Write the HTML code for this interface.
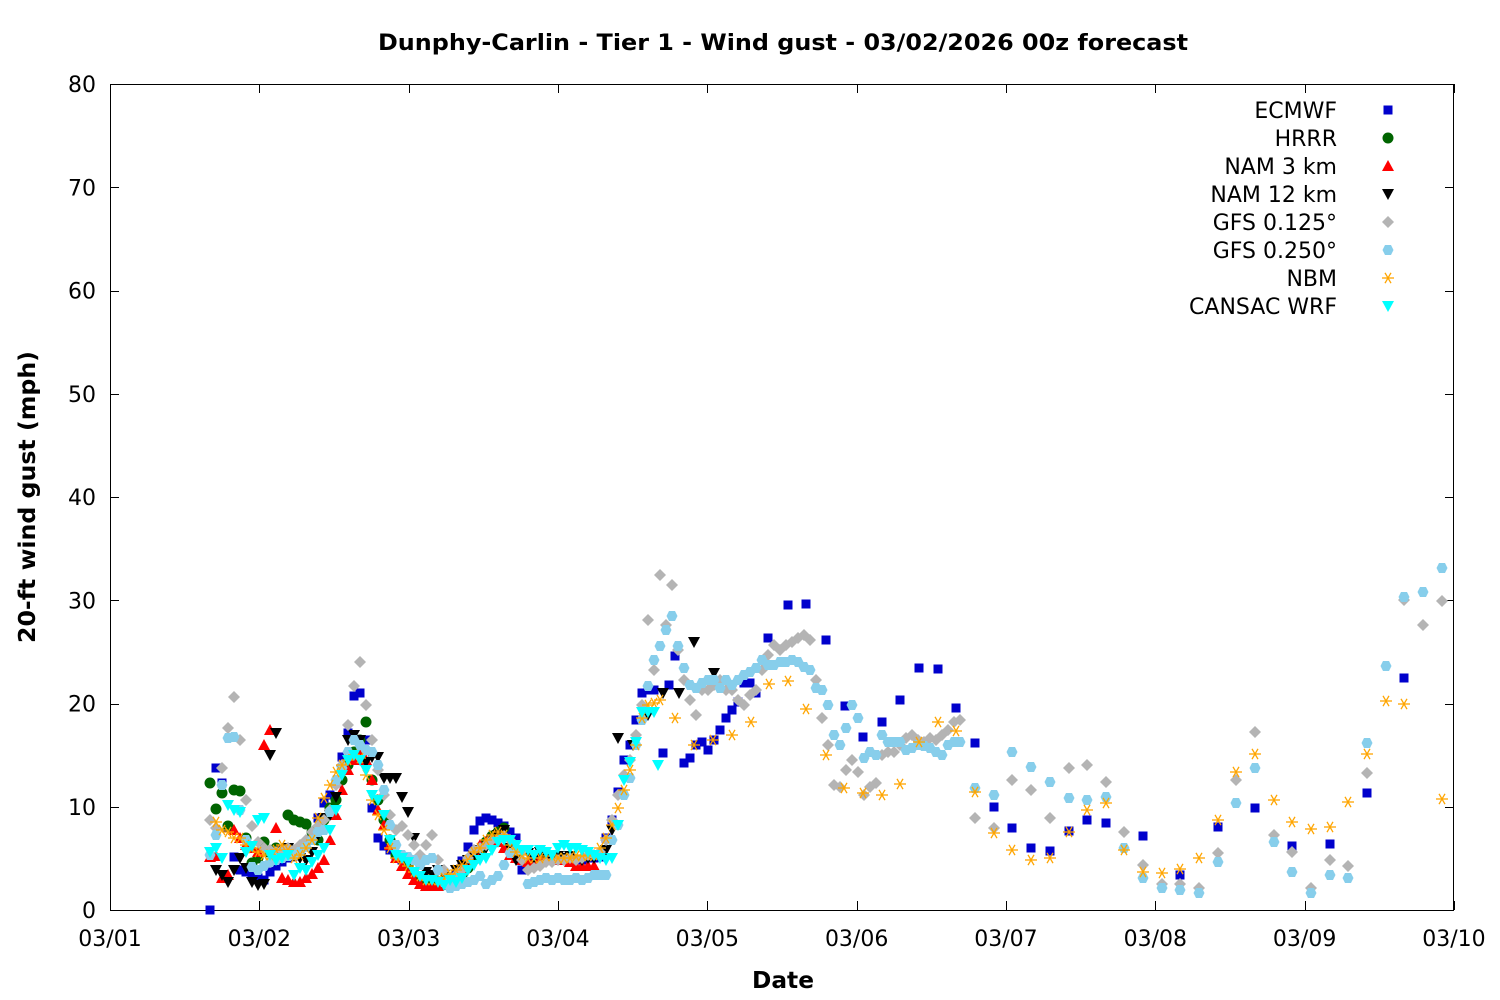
<!DOCTYPE html>
<html><head><meta charset="utf-8"><style>
html,body{margin:0;padding:0;background:#fff;}
svg{display:block;font-family:"DejaVu Sans","Liberation Sans",sans-serif;}
</style></head><body>
<svg id="s" width="1500" height="1000" viewBox="0 0 1500 1000" xmlns="http://www.w3.org/2000/svg">
<rect width="1500" height="1000" fill="#fff"/>
<text x="783" y="50" text-anchor="middle" font-size="22" font-weight="bold" textLength="810" lengthAdjust="spacingAndGlyphs">Dunphy-Carlin - Tier 1 - Wind gust - 03/02/2026 00z forecast</text>
<text x="783" y="988" text-anchor="middle" font-size="23" font-weight="bold" textLength="62" lengthAdjust="spacingAndGlyphs">Date</text>
<text transform="translate(35,497) rotate(-90)" text-anchor="middle" font-size="23" font-weight="bold" textLength="292" lengthAdjust="spacingAndGlyphs">20-ft wind gust (mph)</text>
<g id="ax" stroke="#000" stroke-width="1" fill="none"></g>
<g id="lab" font-size="22" fill="#000"></g>
<g id="pts"></g>
<g id="leg" font-size="22"></g>
</svg>
<script>
const NS="http://www.w3.org/2000/svg";
function el(p,t,a,txt){const e=document.createElementNS(NS,t);for(const k in a)e.setAttribute(k,a[k]);if(txt!==undefined)e.textContent=txt;p.appendChild(e);return e;}
const ax=document.getElementById('ax'),lab=document.getElementById('lab'),pts=document.getElementById('pts'),leg=document.getElementById('leg');
el(ax,'rect',{x:110.5,y:84.5,width:1343,height:826});
for(let i=0;i<=8;i++){const y=910-i*103.25;const yy=Math.round(y)+0.5;
el(ax,'line',{x1:110,y1:yy,x2:119,y2:yy});el(ax,'line',{x1:1454,y1:yy,x2:1445,y2:yy});
el(lab,'text',{x:96,y:y+8,'text-anchor':'end'},String(i*10));}
const dl=['03/01','03/02','03/03','03/04','03/05','03/06','03/07','03/08','03/09','03/10'];
for(let i=0;i<=9;i++){const x=110+i*149.33;const xx=Math.round(x)+0.5;
el(ax,'line',{x1:xx,y1:910,x2:xx,y2:901});el(ax,'line',{x1:xx,y1:84,x2:xx,y2:93});
el(lab,'text',{x:x,y:946,'text-anchor':'middle'},dl[i]);}
function P(s){const a=s.split(/[;\s]+/).filter(Boolean).map(v=>v.split(',').map(Number));return a.filter(v=>v.length==2&&!isNaN(v[1]));}
function mk(g,type,c,x,y){
 if(type=='sq')el(g,'rect',{x:x-4.5,y:y-4.5,width:9,height:9,fill:c});
 else if(type=='ci')el(g,'circle',{cx:x,cy:y,r:5.5,fill:c});
 else if(type=='tu')el(g,'polygon',{points:`${x},${y-6} ${x+6},${y+5} ${x-6},${y+5}`,fill:c});
 else if(type=='td')el(g,'polygon',{points:`${x},${y+6} ${x+6},${y-5} ${x-6},${y-5}`,fill:c});
 else if(type=='di')el(g,'polygon',{points:`${x},${y-6} ${x+6},${y} ${x},${y+6} ${x-6},${y}`,fill:c});
 else if(type=='hx')el(g,'polygon',{points:`${x-5.5},${y} ${x-3},${y-5} ${x+3},${y-5} ${x+5.5},${y} ${x+3},${y+5} ${x-3},${y+5}`,fill:c});
 else if(type=='st'){for(const a of [0,60,120]){const r=a*Math.PI/180;el(g,'line',{x1:x-6*Math.cos(r),y1:y-6*Math.sin(r),x2:x+6*Math.cos(r),y2:y+6*Math.sin(r),stroke:c,'stroke-width':1.3});}}
}
const S=[
['ECMWF','sq','#0000cc',`210,910;216,768;222,783;228,827;234,857;240,870;246,872;252,875;258,878;264,880;270,872;276,866;282,862;288,858;294,856;300,852;306,846;312,836;318,818;324,803;330,795;336,783;342,757;348,733;354,696;360,693;366,740;372,808;378,838;384,846;390,850;396,857;402,860;408,863;414,872;420,878;426,883;432,885;438,886;444,884;450,880;456,874;462,861;468,847;474,830;480,821;486,818;492,820;498,823;504,826;510,832;516,838;522,870;528,862;534,857;540,855;546,855;552,855;558,860;564,858;570,858;576,860;582,860;588,858;594,858;600,857;606,838;612,820;618,792;624,760;630,745;636,720;642,693;648,690;654,690;663,753;669,685;675,656;684,763;690,758;696,745;702,742;708,750;714,740;720,730;726,718;732,710;738,702;744,683;750,683;756,693;768,638;788,605;806,604;826,640;845,706;863,737;882,722;900,700;919,668;938,669;956,708;975,743;994,807;1012,828;1031,848;1050,851;1069,831;1087,820;1106,823;1143,836;1180,875;1218,827;1255,808;1292,846;1330,844;1367,793;1404,678`],
['HRRR','ci','#006400',`210,783;216,809;222,793;228,826;234,790;240,791;246,838;252,863;258,858;264,842;270,853;276,848;282,852;288,815;294,820;300,822;306,824;312,832;318,840;324,820;330,808;336,800;342,780;348,765;354,752;360,740;366,722;372,780;378,800;384,820;390,840;396,855;402,858;408,866;414,874;420,878;426,880;432,882;438,882;444,882;450,880;456,878;462,875;468,868;474,860;480,850;486,842;492,836;498,832;504,828`],
['NAM 3 km','tu','#ff0000',`210,857;216,856;222,878;228,875;234,830;240,838;246,845;252,848;258,852;264,745;270,730;276,828;282,878;288,880;294,882;300,882;306,878;312,874;318,868;324,860;330,840;336,815;342,790;348,770;354,760;360,755;366,760;372,780;378,810;384,825;390,845;396,858;402,866;408,874;414,880;420,884;426,886;432,886;438,886;444,885;450,882;456,878;462,870;468,862;474,850;480,845;486,842;492,840;498,842;504,848;510,855;516,858;522,860;528,862;534,860;540,858;546,860;552,860;558,860;564,860;570,862;576,866;582,866;588,866;594,866`],
['NAM 12 km','td','#000000',`216,870;222,875;228,882;234,870;240,858;246,868;252,882;258,885;264,884;270,755;276,733;282,850;288,848;294,856;300,858;306,860;312,852;318,835;324,818;330,815;336,797;342,770;348,740;354,735;360,740;366,762;372,757;378,757;384,778;390,778;396,778;402,797;408,812;414,838;420,860;426,872;432,875;438,870;444,875;450,880;456,870;462,865;468,860;474,855;480,850;486,848;492,840;498,835;504,830;510,848;516,860;522,850;528,853;534,858;540,852;546,858;552,856;558,856;564,858;570,856;576,860;582,860;588,858;594,858;600,856;606,850;612,830;618,738;633,745;648,715;663,693;679,693;694,642;714,673`],
['GFS 0.125°','di','#b4b4b4',`210,820;216,828;222,768;228,728;234,697;240,740;246,800;252,826;258,842;264,848;270,850;276,852;282,850;288,848;294,850;300,845;306,840;312,832;318,826;324,820;330,810;336,785;342,765;348,725;354,686;360,662;366,705;372,740;378,770;384,795;390,815;396,830;402,826;408,835;414,845;420,855;426,845;432,835;438,860;444,870;450,880;456,875;462,870;468,858;474,850;480,848;486,845;492,840;498,840;504,836;510,840;516,850;522,860;528,870;534,868;540,866;546,862;552,862;558,860;564,860;570,858;576,860;582,858;588,855;594,855;600,852;606,840;612,820;618,795;624,775;630,760;636,735;642,705;648,620;654,670;660,575;666,625;672,585;678,650;684,680;690,700;696,715;702,690;708,690;714,685;720,680;726,690;732,690;738,700;744,705;750,695;756,690;762,670;768,655;774,645;780,650;786,645;792,642;798,638;804,635;810,640;816,680;822,718;828,745;834,785;840,787;846,770;852,760;858,772;864,795;870,787;876,783;882,755;888,752;894,752;900,745;906,738;912,735;918,740;924,742;930,738;936,740;942,735;948,730;954,722;960,720;975,818;994,828;1012,780;1031,790;1050,818;1069,768;1087,765;1106,782;1124,832;1143,865;1162,884;1180,884;1199,888;1218,853;1236,780;1255,732;1274,835;1292,852;1311,888;1330,860;1348,866;1367,773;1404,600;1423,625;1442,601`],
['GFS 0.250°','hx','#87ceeb',`210,855;216,835;222,785;228,738;234,737;240,810;246,840;252,867;258,870;264,866;270,862;276,860;282,858;288,856;294,855;300,852;306,847;312,840;318,832;324,830;330,812;336,780;342,768;348,752;354,740;360,745;366,750;372,752;378,765;384,790;390,825;396,845;402,855;408,857;414,860;420,865;426,860;432,858;438,870;444,882;450,888;456,886;462,884;468,882;474,880;480,876;486,884;492,880;498,876;504,865;510,853;516,850;522,850;528,884;534,882;540,880;546,878;552,880;558,878;564,880;570,880;576,878;582,880;588,878;594,875;600,875;606,875;612,840;618,825;624,795;630,778;636,745;642,720;648,686;654,660;660,646;666,630;672,616;678,646;684,668;690,685;696,688;702,683;708,680;714,680;720,688;726,680;732,685;738,680;744,675;750,672;756,668;762,660;768,665;774,665;780,662;786,662;792,660;798,662;804,667;810,670;816,688;822,690;828,705;834,735;840,745;846,728;852,705;858,718;864,758;870,752;876,755;882,735;888,742;894,742;900,742;906,750;912,748;918,745;924,746;930,748;936,752;942,755;948,745;954,742;960,742;975,788;994,795;1012,752;1031,767;1050,782;1069,798;1087,800;1106,797;1124,848;1143,878;1162,888;1180,890;1199,893;1218,862;1236,803;1255,768;1274,842;1292,872;1311,893;1330,875;1348,878;1367,743;1386,666;1404,597;1423,592;1442,568`],
['NBM','st','#ffa500',`216,822;222,830;228,832;234,838;240,838;246,845;252,848;258,852;264,855;270,855;276,850;282,845;288,850;294,858;300,855;306,848;312,840;318,818;324,798;330,785;336,772;342,765;348,760;354,755;360,758;366,775;372,800;378,815;384,830;390,848;396,858;402,860;408,866;414,872;420,876;426,880;432,880;438,880;444,878;450,874;456,870;462,865;468,860;474,852;480,848;486,840;492,835;498,832;504,835;510,845;516,852;522,855;528,858;534,858;540,858;546,856;552,856;558,858;564,858;570,858;576,856;582,855;588,856;594,855;600,848;606,838;612,825;618,808;624,790;630,770;636,745;642,718;648,705;654,703;660,700;675,718;694,745;713,740;732,735;751,722;769,684;788,681;806,709;826,755;844,788;863,793;882,795;900,784;919,742;938,722;956,731;975,792;994,833;1012,850;1031,860;1050,858;1069,832;1087,810;1106,803;1124,850;1143,872;1162,873;1180,869;1199,858;1218,820;1236,772;1255,754;1274,800;1292,822;1311,829;1330,827;1348,802;1367,754;1386,701;1404,704;1442,799`],
['CANSAC WRF','td','#00ffff',`210,852;216,848;222,858;228,805;234,810;240,812;246,852;252,846;258,820;264,818;270,855;276,860;282,858;288,855;294,875;300,868;306,870;312,862;318,855;324,848;330,830;336,810;342,775;348,760;354,755;360,760;366,770;372,795;378,800;384,815;390,840;396,855;402,858;408,862;414,872;420,876;426,880;432,880;438,882;444,885;450,880;456,882;462,878;468,870;474,865;480,860;486,858;492,850;498,842;504,840;510,840;516,845;522,850;528,850;534,855;540,850;546,852;552,855;558,848;564,845;570,848;576,848;582,850;588,852;594,855;600,858;606,860;612,858;618,825;624,780;630,762;636,742;642,712;648,712;654,712;658,765`]
];
S.forEach((s,i)=>{const g=el(pts,'g',{});P(s[3]).forEach(p=>mk(g,s[1],s[2],p[0],p[1]));
const y=110+i*28;el(leg,'text',{x:1337,y:y+8,'text-anchor':'end'},s[0]);mk(leg,s[1],s[2],1388,y);});
</script>
</body></html>
